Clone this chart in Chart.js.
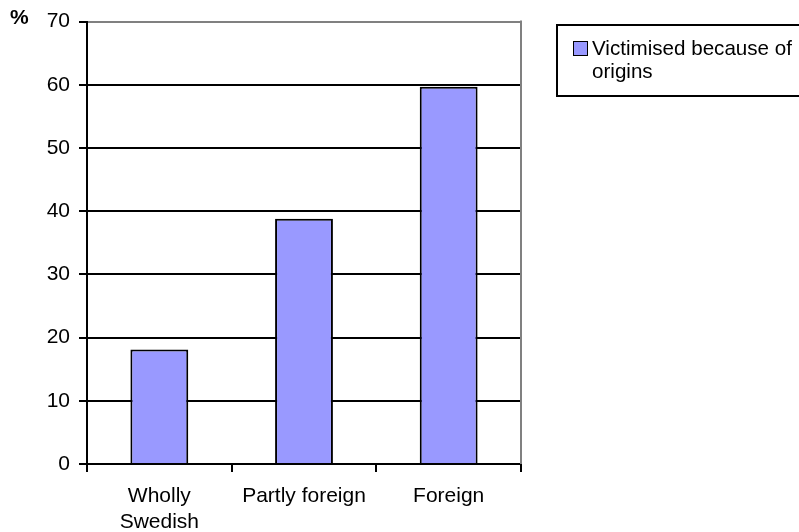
<!DOCTYPE html>
<html>
<head>
<meta charset="utf-8">
<script src="https://cdn.jsdelivr.net/npm/chart.js@4.4.0/dist/chart.umd.min.js"></script>
<style>
  html, body { margin: 0; padding: 0; background: #fff; overflow: hidden; }
  #wrap { position: relative; width: 799px; height: 532px; }
  #c { position: absolute; left: 0; top: 0; }
  .f { font-family: "Liberation Sans", Arial, sans-serif; color: #000; }
  #pct { position: absolute; left: 10px; top: 7px; font-size: 21px; font-weight: bold; line-height: 20px; }
  #legend { position: absolute; left: 556px; top: 24px; width: 270px; height: 73px; border: 2px solid #000; box-sizing: border-box; }
  #sw { position: absolute; left: 573px; top: 41px; width: 15px; height: 15px; background: #9999FF; border: 1.5px solid #000; box-sizing: border-box; }
  #lt { position: absolute; left: 592px; top: 36px; width: 206px; font-size: 20.6px; line-height: 23px; }
</style>
</head>
<body>
<div id="wrap">
  <canvas id="c" width="799" height="532"></canvas>
  <div id="pct" class="f">%</div>
  <div id="legend"></div>
  <div id="sw"></div>
  <div id="lt" class="f">Victimised because of origins</div>
</div>
<script>
const categories = [["Wholly", "Swedish"], "Partly foreign", "Foreign"];
const seriesName = "Victimised because of origins";
const values = [18.1, 38.8, 59.7];
const yMin = 0, yMax = 70, yStep = 10;

const FONT = "'Liberation Sans', Arial, sans-serif";

const frame = {
  id: 'frame',
  beforeDatasetsDraw(chart) {
    const a = chart.chartArea, ctx = chart.ctx;
    ctx.save();
    ctx.strokeStyle = '#808080';
    ctx.lineWidth = 2;
    ctx.beginPath();
    ctx.moveTo(Math.round(a.right), a.top - 1);
    ctx.lineTo(Math.round(a.right), a.bottom);
    ctx.stroke();
    ctx.restore();
  }
};

new Chart(document.getElementById('c'), {
  type: 'bar',
  data: {
    labels: categories,
    datasets: [{
      label: seriesName,
      data: values,
      backgroundColor: '#9999FF',
      borderColor: '#000000',
      borderWidth: 2,
      barPercentage: 0.4,
      categoryPercentage: 1.0
    }]
  },
  options: {
    responsive: false,
    animation: false,
    devicePixelRatio: 1,
    layout: { padding: { top: 20, right: 278, left: 0, bottom: 0 } },
    plugins: { legend: { display: false }, tooltip: { enabled: false } },
    scales: {
      x: {
        offset: true,
        grid: {
          offset: true,
          drawOnChartArea: false,
          drawTicks: true,
          tickLength: 8,
          color: '#000000',
          lineWidth: 2
        },
        border: { color: '#000000', width: 2 },
        ticks: {
          color: '#000000',
          font: { family: FONT, size: 21 },
          padding: 12,
          maxRotation: 0,
          autoSkip: false
        },
        afterFit(scale) { scale.height = 68; }
      },
      y: {
        min: yMin,
        max: yMax,
        grid: {
          color: (ctx) => (ctx.tick && ctx.tick.value === yMax) ? '#808080' : '#000000',
          tickColor: '#000000',
          lineWidth: 2,
          tickLength: 8,
          drawTicks: true
        },
        border: { color: '#000000', width: 2 },
        ticks: {
          stepSize: yStep,
          color: '#000000',
          font: { family: FONT, size: 21 },
          padding: 9
        },
        afterFit(scale) { scale.width = 87; }
      }
    }
  },
  plugins: [frame]
});
</script>
</body>
</html>
